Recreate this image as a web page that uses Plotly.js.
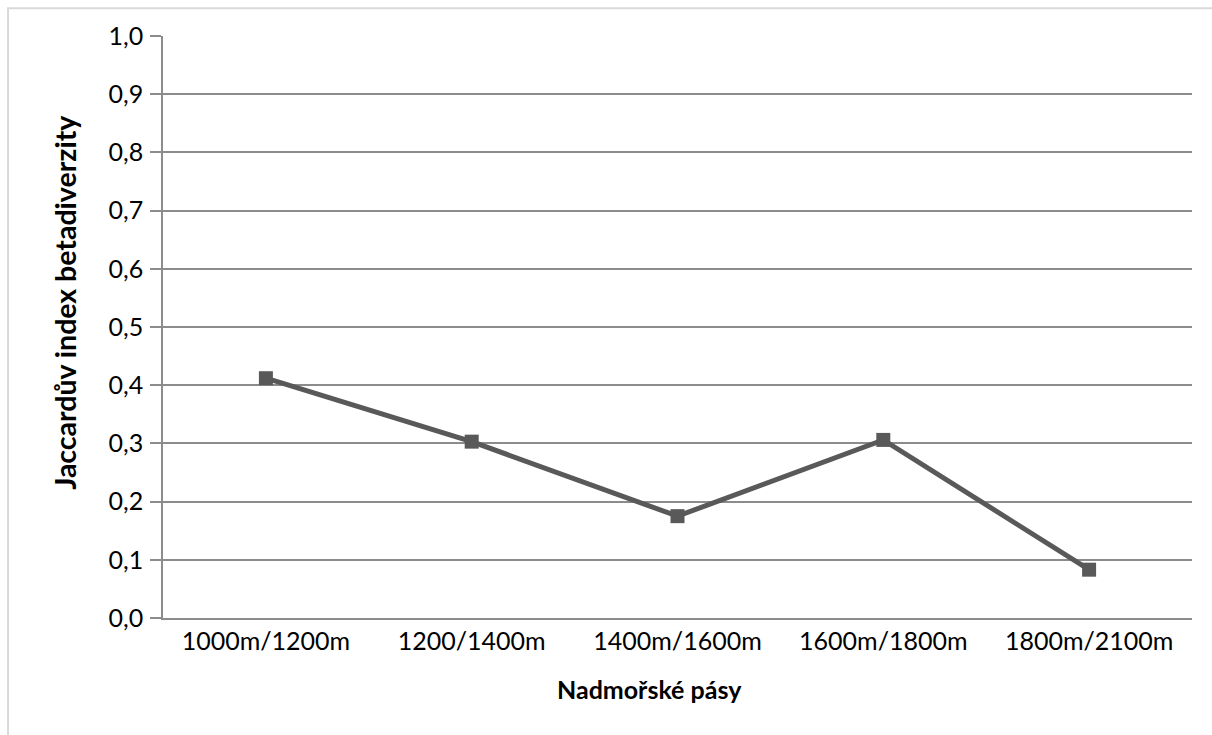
<!DOCTYPE html>
<html>
<head>
<meta charset="utf-8">
<script src="https://cdn.plot.ly/plotly-3.0.1.min.js"></script>
<style>
html,body{margin:0;padding:0;background:#fff;}
#chart{width:1212px;height:735px;}
</style>
</head>
<body>
<div id="chart"></div>
<script>
const categories = ["1000m/1200m", "1200/1400m", "1400m/1600m", "1600m/1800m", "1800m/2100m"];
const jaccard = [0.412, 0.303, 0.175, 0.306, 0.083];
const yTickVals = [0, 0.1, 0.2, 0.3, 0.4, 0.5, 0.6, 0.7, 0.8, 0.9, 1.0];
const yTickText = ["0,0", "0,1", "0,2", "0,3", "0,4", "0,5", "0,6", "0,7", "0,8", "0,9", "1,0"];
const xTitle = "Nadmořské pásy";
const yTitle = "Jaccardův index betadiverzity";

const gridColor = "#8c8c8c";
const font = "Lato, 'Open Sans', sans-serif";

const trace = {
  type: "scatter",
  mode: "lines+markers",
  x: categories,
  y: jaccard,
  line: {color: "#595959", width: 5},
  marker: {symbol: "square", size: 14, color: "#595959"},
  cliponaxis: false,
  hoverinfo: "x+y"
};

const layout = {
  width: 1212,
  height: 735,
  margin: {l: 163, r: 20, t: 36, b: 116.5, pad: 0},
  paper_bgcolor: "#ffffff",
  plot_bgcolor: "#ffffff",
  showlegend: false,
  font: {family: font, size: 25, color: "#000000"},
  xaxis: {
    type: "category",
    range: [-0.5, categories.length - 0.5],
    showgrid: false,
    showline: true,
    linecolor: gridColor,
    linewidth: 1.5,
    ticks: "",
    zeroline: false,
    tickfont: {family: font, size: 25, color: "#000"},
    ticklabelstandoff: 0,
    fixedrange: true
  },
  yaxis: {
    range: [0, 1.0],
    tickvals: yTickVals,
    ticktext: yTickText,
    showgrid: true,
    gridcolor: gridColor,
    gridwidth: 1.5,
    showline: true,
    linecolor: gridColor,
    linewidth: 1.5,
    ticks: "outside",
    ticklen: 11,
    tickwidth: 1.5,
    tickcolor: gridColor,
    zeroline: false,
    tickfont: {family: font, size: 25, color: "#000"},
    ticklabelstandoff: 2,
    fixedrange: true
  },
  annotations: [
    {
      text: xTitle, xref: "paper", yref: "paper",
      x: 0.473, y: -0.1227, xanchor: "center", yanchor: "middle",
      showarrow: false, font: {family: font, size: 25, color: "#000", weight: "bold"}
    },
    {
      text: yTitle, xref: "paper", yref: "paper",
      x: -0.0952, y: 0.5416, xanchor: "center", yanchor: "middle",
      textangle: -90,
      showarrow: false, font: {family: font, size: 28.5, color: "#000", weight: "bold"}
    }
  ],
  shapes: [
    {
      type: "rect", xref: "paper", yref: "paper",
      x0: -0.1506, x1: 1.3, y0: -0.4, y1: 1.0476,
      line: {color: "#d9d9d9", width: 2},
      fillcolor: "rgba(0,0,0,0)",
      layer: "below"
    }
  ]
};

Plotly.newPlot("chart", [trace], layout, {displayModeBar: false});
</script>
</body>
</html>
